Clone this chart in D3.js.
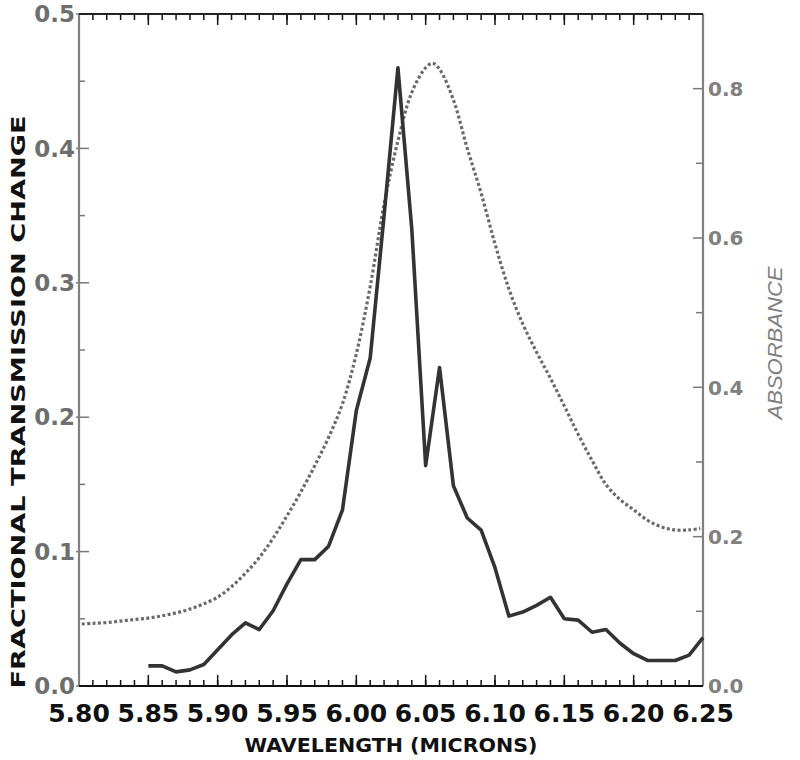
<!DOCTYPE html>
<html>
<head>
<meta charset="utf-8">
<script src="https://cdn.jsdelivr.net/npm/d3@7"></script>
<style>
  html, body { margin: 0; padding: 0; background: #fff; }
  svg { display: block; }
</style>
</head>
<body>
<svg id="chart" width="800" height="760"></svg>
<script>
// ---- Data ----
const transWavelengths = [5.85,5.86,5.87,5.88,5.89,5.90,5.91,5.92,5.93,5.94,5.95,5.96,5.97,5.98,5.99,6.00,6.01,6.02,6.03,6.04,6.05,6.06,6.07,6.08,6.09,6.10,6.11,6.12,6.13,6.14,6.15,6.16,6.17,6.18,6.19,6.20,6.21,6.22,6.23,6.24,6.25];
const transValues = [0.015,0.015,0.0105,0.012,0.016,0.027,0.038,0.047,0.042,0.056,0.076,0.094,0.094,0.104,0.131,0.205,0.244,0.35,0.46,0.34,0.164,0.237,0.149,0.125,0.116,0.088,0.052,0.055,0.06,0.066,0.05,0.049,0.04,0.042,0.032,0.024,0.019,0.019,0.019,0.023,0.036];

const absWavelengths = [5.802,5.81,5.82,5.83,5.84,5.85,5.86,5.87,5.88,5.89,5.90,5.91,5.92,5.93,5.94,5.95,5.96,5.97,5.98,5.99,6.00,6.01,6.02,6.03,6.04,6.05,6.055,6.06,6.07,6.08,6.09,6.10,6.11,6.12,6.13,6.14,6.15,6.16,6.17,6.18,6.19,6.20,6.21,6.22,6.23,6.24,6.248];
const absValues = [0.083,0.084,0.085,0.087,0.089,0.091,0.094,0.098,0.103,0.110,0.119,0.133,0.151,0.172,0.198,0.228,0.260,0.295,0.333,0.378,0.445,0.535,0.645,0.730,0.795,0.828,0.834,0.826,0.785,0.720,0.660,0.592,0.532,0.485,0.447,0.412,0.375,0.337,0.302,0.270,0.250,0.236,0.222,0.213,0.209,0.209,0.211];

const xTickValues = [5.80,5.85,5.90,5.95,6.00,6.05,6.10,6.15,6.20,6.25];
const leftTickValues = [0.0,0.1,0.2,0.3,0.4,0.5];
const rightTickValues = [0.0,0.2,0.4,0.6,0.8];

const xTitle = "WAVELENGTH (MICRONS)";
const leftTitle = "FRACTIONAL TRANSMISSION CHANGE";
const rightTitle = "ABSORBANCE";

// ---- Layout ----
const svg = d3.select("#chart");
const L = 79, R = 703, T = 14, B = 686;

const x = d3.scaleLinear().domain([5.80, 6.25]).range([L, R]);
const yL = d3.scaleLinear().domain([0, 0.5]).range([B, T]);
const yR = d3.scaleLinear().domain([0, 0.9]).range([B, T]);

const boldFont = "'DejaVu Sans', sans-serif";

// minor tick helpers
const xMinor = d3.range(0, 46).map(i => 5.80 + i * 0.01);
const leftMinor = d3.range(0, 10).map(i => 0.05 + i * 0.1).filter(v => v < 0.5);
const rightMinor = [0.1, 0.3, 0.5, 0.7];

// bottom axis
const gB = svg.append("g");
gB.selectAll("line.minor").data(xMinor).join("line")
  .attr("x1", d => x(d)).attr("x2", d => x(d))
  .attr("y1", B).attr("y2", B - 6).attr("stroke", "#111").attr("stroke-width", 1.5);
gB.selectAll("line.major").data(xTickValues).join("line")
  .attr("x1", d => x(d)).attr("x2", d => x(d))
  .attr("y1", B).attr("y2", B - 11).attr("stroke", "#111").attr("stroke-width", 1.5);
// top axis
const gT = svg.append("g");
gT.selectAll("line.minor").data(xMinor).join("line")
  .attr("x1", d => x(d)).attr("x2", d => x(d))
  .attr("y1", T).attr("y2", T + 6).attr("stroke", "#111").attr("stroke-width", 1.5);
gT.selectAll("line.major").data(xTickValues).join("line")
  .attr("x1", d => x(d)).attr("x2", d => x(d))
  .attr("y1", T).attr("y2", T + 11).attr("stroke", "#111").attr("stroke-width", 1.5);

// left axis ticks
const gL = svg.append("g");
gL.selectAll("line.major").data(leftTickValues).join("line")
  .attr("x1", L - 3).attr("x2", L + 10)
  .attr("y1", d => yL(d)).attr("y2", d => yL(d)).attr("stroke", "#777").attr("stroke-width", 1.5);
gL.selectAll("line.minor").data(leftMinor).join("line")
  .attr("x1", L).attr("x2", L + 6)
  .attr("y1", d => yL(d)).attr("y2", d => yL(d)).attr("stroke", "#777").attr("stroke-width", 1.5);
gL.selectAll("text").data(leftTickValues).join("text")
  .attr("x", L - 4).attr("y", d => yL(d)).attr("dy", "0.36em")
  .attr("text-anchor", "end")
  .attr("font-family", boldFont).attr("font-weight", "bold").attr("font-size", 23)
  .attr("fill", "#6e6e6e")
  .text(d => d.toFixed(1));

// right axis ticks
const gR = svg.append("g");
gR.selectAll("line.major").data(rightTickValues).join("line")
  .attr("x1", R - 10).attr("x2", R)
  .attr("y1", d => yR(d)).attr("y2", d => yR(d)).attr("stroke", "#777").attr("stroke-width", 1.5);
gR.selectAll("line.minor").data(rightMinor).join("line")
  .attr("x1", R - 7).attr("x2", R)
  .attr("y1", d => yR(d)).attr("y2", d => yR(d)).attr("stroke", "#777").attr("stroke-width", 1.5);
gR.selectAll("text").data(rightTickValues).join("text")
  .attr("x", R + 5).attr("y", d => yR(d)).attr("dy", "0.36em")
  .attr("text-anchor", "start")
  .attr("font-family", boldFont).attr("font-weight", "bold").attr("font-size", 20)
  .attr("fill", "#808080")
  .text(d => d.toFixed(1));

// bottom tick labels
gB.selectAll("text").data(xTickValues).join("text")
  .attr("x", d => x(d)).attr("y", 722)
  .attr("text-anchor", "middle")
  .attr("font-family", boldFont).attr("font-weight", "bold").attr("font-size", 25)
  .attr("fill", "#111")
  .text(d => d.toFixed(2));

// frame lines
svg.append("line").attr("x1", L).attr("x2", L).attr("y1", T).attr("y2", B)
  .attr("stroke", "#808080").attr("stroke-width", 2.2);
svg.append("line").attr("x1", R).attr("x2", R).attr("y1", T).attr("y2", B)
  .attr("stroke", "#808080").attr("stroke-width", 2.2);
svg.append("line").attr("x1", L).attr("x2", R).attr("y1", B).attr("y2", B)
  .attr("stroke", "#111").attr("stroke-width", 2.2);
svg.append("line").attr("x1", L).attr("x2", R).attr("y1", T).attr("y2", T)
  .attr("stroke", "#222").attr("stroke-width", 2.2);

// absorbance dotted line
const absData = absWavelengths.map((w, i) => [w, absValues[i]]);
svg.append("path")
  .datum(absData)
  .attr("d", d3.line().x(d => x(d[0])).y(d => yR(d[1])).curve(d3.curveCatmullRom.alpha(0.5)))
  .attr("fill", "none").attr("stroke", "#6a6a6a")
  .attr("stroke-width", 3.2).attr("stroke-dasharray", "3,2.4");

// transmission solid line
const transData = transWavelengths.map((w, i) => [w, transValues[i]]);
svg.append("path")
  .datum(transData)
  .attr("d", d3.line().x(d => x(d[0])).y(d => yL(d[1])))
  .attr("fill", "none").attr("stroke", "#333")
  .attr("stroke-width", 3.6).attr("stroke-linejoin", "round");

// titles
svg.append("text")
  .attr("x", 391).attr("y", 752)
  .attr("text-anchor", "middle")
  .attr("font-family", boldFont).attr("font-weight", "bold").attr("font-size", 19)
  .attr("textLength", 293).attr("lengthAdjust", "spacingAndGlyphs")
  .attr("fill", "#111")
  .text(xTitle);

svg.append("text")
  .attr("transform", "translate(25,402) rotate(-90)")
  .attr("text-anchor", "middle")
  .attr("font-family", boldFont).attr("font-weight", "bold").attr("font-size", 19)
  .attr("textLength", 573).attr("lengthAdjust", "spacingAndGlyphs")
  .attr("fill", "#111")
  .text(leftTitle);

svg.append("text")
  .attr("transform", "translate(782,343) rotate(-90)")
  .attr("text-anchor", "middle")
  .attr("font-family", "'Liberation Sans', Arial, sans-serif").attr("font-style", "italic").attr("font-size", 20)
  .attr("textLength", 153).attr("lengthAdjust", "spacingAndGlyphs")
  .attr("fill", "#808080")
  .text(rightTitle);
</script>
</body>
</html>
